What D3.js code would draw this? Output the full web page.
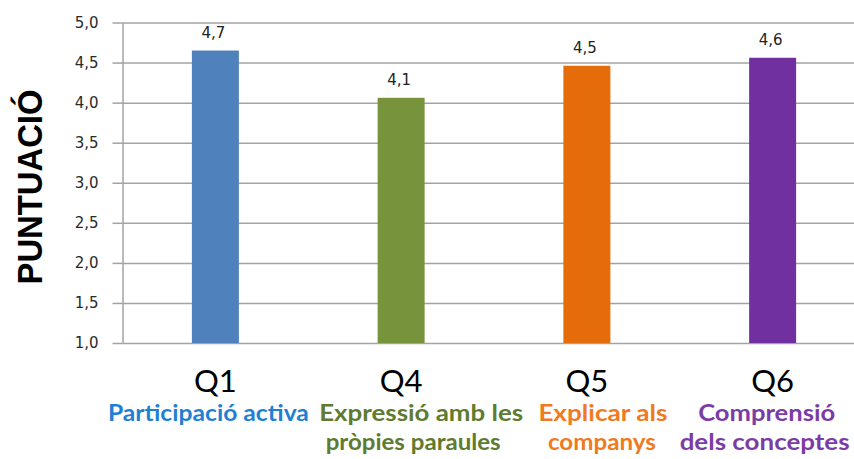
<!DOCTYPE html>
<html>
<head>
<meta charset="utf-8">
<script src="https://cdn.jsdelivr.net/npm/d3@7"></script>
<style>
  html, body { margin: 0; padding: 0; background: #fff; }
  svg { display: block; }
</style>
</head>
<body>
<svg id="chart" width="854" height="459"></svg>
<script>
// ---- data ----
const categories = ["Q1", "Q4", "Q5", "Q6"];
const values = [4.65, 4.06, 4.46, 4.56];
const valueLabels = ["4,7", "4,1", "4,5", "4,6"];
const subtitles = [
  ["Participació activa"],
  ["Expressió amb les", "pròpies paraules"],
  ["Explicar als", "companys"],
  ["Comprensió", "dels conceptes"]
];
const yTicks = [1.0, 1.5, 2.0, 2.5, 3.0, 3.5, 4.0, 4.5, 5.0];
const yTickLabels = ["1,0", "1,5", "2,0", "2,5", "3,0", "3,5", "4,0", "4,5", "5,0"];
const yTitle = "PUNTUACIÓ";

// ---- styles / layout ----
const barColors = ["#4F81BD", "#77933C", "#E46C0A", "#7030A0"];
const textColors = ["#1F80D2", "#5E7B2F", "#F07A1E", "#7B3CA6"];
const subDx = [[-7], [20, 12], [16, 15], [-6, -8]];
const subWidths = [[201], [204, 175], [129, 108], [137, 170]];

const svg = d3.select("#chart");
const mLeft = 122.5, mRight = 865.5, mTop = 22.5, mBottom = 343;

const x = d3.scaleBand().domain(categories).range([mLeft, mRight])
  .paddingInner(0.747).paddingOuter(0.3735);
const y = d3.scaleLinear().domain([1, 5]).range([mBottom, mTop]);

// gridlines
const grid = svg.append("g").attr("transform", `translate(${mLeft},0)`)
  .call(d3.axisLeft(y).tickValues(yTicks).tickSize(-(854 - mLeft)).tickFormat(""));
grid.select(".domain").remove();
grid.selectAll("line").attr("stroke", "#a3a3a3").attr("stroke-width", 1.5);

// left axis with tick marks and labels
const yAxis = svg.append("g").attr("transform", `translate(${mLeft},0)`)
  .call(d3.axisLeft(y).tickValues(yTicks).tickSizeInner(10).tickSizeOuter(0)
    .tickPadding(14).tickFormat((d, i) => yTickLabels[i]));
yAxis.select(".domain").attr("stroke", "#a3a3a3").attr("stroke-width", 1.5);
yAxis.selectAll("line").attr("stroke", "#a3a3a3").attr("stroke-width", 1.5);
yAxis.selectAll("text").attr("font-family", "DejaVu Sans").attr("font-size", 15)
  .attr("fill", "#2a2a2a");

// bars
svg.append("g").selectAll("rect").data(values).join("rect")
  .attr("x", (d, i) => x(categories[i]))
  .attr("y", d => y(d))
  .attr("width", x.bandwidth())
  .attr("height", d => y(1) - y(d))
  .attr("fill", (d, i) => barColors[i]);

// value labels
svg.append("g").selectAll("text").data(values).join("text")
  .attr("x", (d, i) => x(categories[i]) + x.bandwidth() / 2 - 2)
  .attr("y", d => y(d) - 13)
  .attr("text-anchor", "middle")
  .attr("font-family", "DejaVu Sans").attr("font-size", 15).attr("fill", "#222")
  .text((d, i) => valueLabels[i]);

// category labels
svg.append("g").selectAll("text").data(categories).join("text")
  .attr("x", d => x(d) + x.bandwidth() / 2)
  .attr("y", 392)
  .attr("text-anchor", "middle")
  .attr("font-family", "Lato").attr("font-size", 31).attr("fill", "#000")
  .text(d => d);

// subtitles
categories.forEach((c, i) => {
  subtitles[i].forEach((line, j) => {
    svg.append("text")
      .attr("x", x(c) + x.bandwidth() / 2 + subDx[i][j])
      .attr("y", 421 + j * 29)
      .attr("text-anchor", "middle")
      .attr("font-family", "Lato").attr("font-weight", "bold").attr("font-size", 22)
      .attr("textLength", subWidths[i][j]).attr("lengthAdjust", "spacingAndGlyphs")
      .attr("fill", textColors[i])
      .text(line);
  });
});

// y title
svg.append("text")
  .attr("transform", "translate(42,187) rotate(-90)")
  .attr("text-anchor", "middle")
  .attr("font-family", "Liberation Sans").attr("font-weight", "bold").attr("font-size", 35)
  .attr("textLength", 195).attr("lengthAdjust", "spacingAndGlyphs")
  .attr("fill", "#000")
  .text(yTitle);
</script>
</body>
</html>
